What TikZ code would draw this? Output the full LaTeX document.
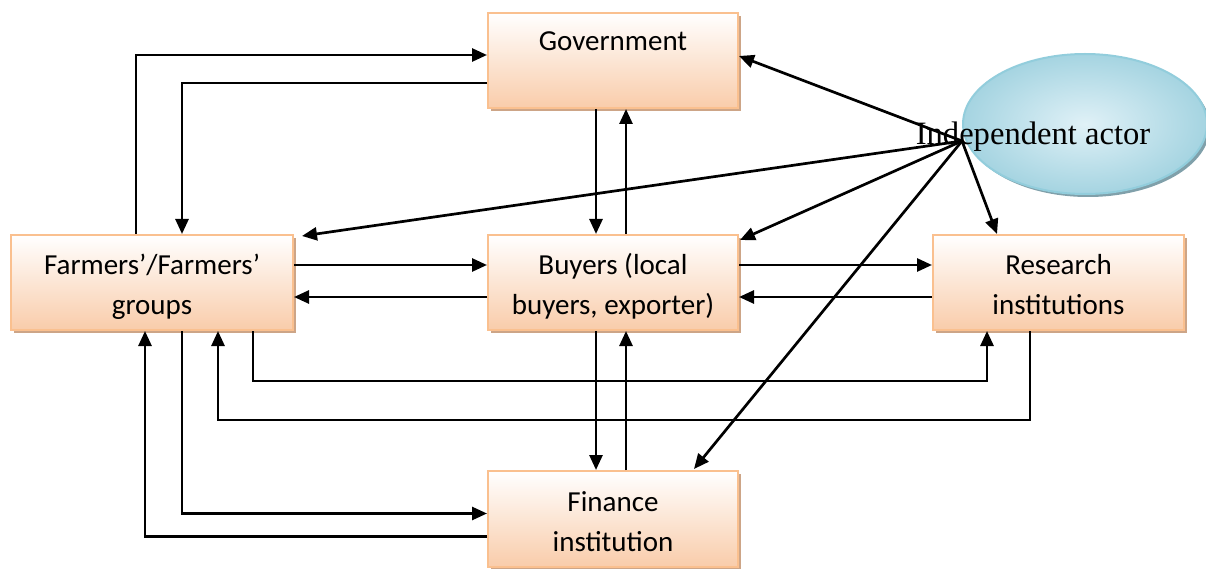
\documentclass[tikz,border=0pt]{standalone}
\usepackage{fontspec}
\setmainfont{Carlito}
\newfontfamily\timesfont{Liberation Serif}
\usetikzlibrary{shapes.geometric, shadows, arrows.meta, calc}

\definecolor{boxline}{RGB}{250,192,143}
\definecolor{boxfill}{RGB}{249,204,170}
\definecolor{boxshade}{RGB}{205,165,135}
\definecolor{actline}{RGB}{146,205,220}
\definecolor{actdark}{RGB}{165,212,225}
\definecolor{actlight}{RGB}{224,241,247}
\definecolor{actshade}{RGB}{128,160,170}

\begin{document}
\begin{tikzpicture}[x=1pt, y=-1pt,
    box/.style={rectangle, draw=boxline, line width=2pt, top color=white, bottom color=boxfill,
      drop shadow={shadow xshift=3pt, shadow yshift=-3pt, fill=boxshade, opacity=1},
      anchor=north west, inner sep=0pt, minimum width=250pt, minimum height=95pt,
      text height=79pt, text depth=16pt, align=center,
      font=\fontsize{29pt}{40pt}\selectfont},
    link/.style={line width=2.7pt, -{Triangle[length=15pt, width=13pt]}}]
  \useasboundingbox (0,0) rectangle (1206,569);

  % actors
  \node[box, text height=38pt, text depth=57pt] (gov) at (487,12) {Government};
  \node[box, minimum width=282pt] (farm) at (10,234) {Farmers'/Farmers'\\groups};
  \node[box] (buy) at (487,234) {Buyers (local\\buyers, exporter)};
  \node[box, minimum width=251pt] (res) at (932,234) {Research\\institutions};
  \node[box, text height=80pt] (fin) at (487,470) {Finance\\institution};

  \node[ellipse, draw=actline, line width=2pt, minimum width=244pt, minimum height=140pt,
    inner color=actlight, outer color=actdark,
    drop shadow={shadow xshift=3pt, shadow yshift=-3pt, fill=actshade, opacity=1}] (ind) at (1085,124) {};
  \node[anchor=base, inner sep=0pt, font=\timesfont\fontsize{32.6pt}{40pt}\selectfont] (indtext) at (1033,145) {Independent actor};
  \coordinate (ia) at (962,141);

  % farmers <-> government
  \draw[link] ([xshift=126pt]farm.north west) |- ([yshift=5.5pt]gov.west);
  \draw[link] ([yshift=-22.5pt]gov.west) -| ([xshift=172pt]farm.north west);

  % farmers <-> finance
  \draw[link] ([xshift=172pt]farm.south west) |- ([yshift=5.5pt]fin.west);
  \draw[link] ([yshift=-17.5pt]fin.west) -| ([xshift=135pt]farm.south west);

  % farmers <-> research
  \draw[link] ([xshift=243pt]farm.south west) -- ++(0,50) -| ([xshift=55pt]res.south west);
  \draw[link] ([xshift=98pt]res.south west) -- ++(0,89) -| ([xshift=208pt]farm.south west);

  % horizontal flows
  \draw[link] ([yshift=17.5pt]farm.east) -- ([yshift=17.5pt]buy.west);
  \draw[link] ([yshift=-14.5pt]buy.west) -- ([yshift=-14.5pt]farm.east);
  \draw[link] ([yshift=17.5pt]buy.east) -- ([yshift=17.5pt]res.west);
  \draw[link] ([yshift=-14.5pt]res.west) -- ([yshift=-14.5pt]buy.east);

  % vertical flows
  \draw[link] ([xshift=-17pt]gov.south) -- ([xshift=-17pt]buy.north);
  \draw[link] ([xshift=13pt]buy.north) -- ([xshift=13pt]gov.south);
  \draw[link] ([xshift=-17pt]buy.south) -- ([xshift=-17pt]fin.north);
  \draw[link] ([xshift=13pt]fin.north) -- ([xshift=13pt]buy.south);

  % independent actor
  \draw[link] (ia) -- ([yshift=4.5pt]gov.east);
  \draw[link] (ia) -- ($(farm.north east)+(8,2)$);
  \draw[link] (ia) -- ($(buy.north east)+(1,6)$);
  \draw[link] (ia) -- ([xshift=65pt]res.north west);
  \draw[link] (ia) -- ($(fin.north)+(81,-1)$);
\end{tikzpicture}
\end{document}
